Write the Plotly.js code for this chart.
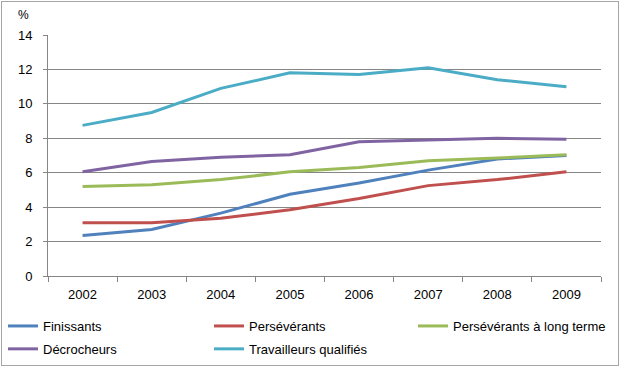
<!DOCTYPE html>
<html><head><meta charset="utf-8">
<script src="https://cdn.plot.ly/plotly-3.0.1.min.js"></script>
<style>
html,body{margin:0;padding:0;background:#fff;}
#wrap{position:absolute;left:1px;top:1px;width:616px;height:363px;border:1px solid #a6a6a6;}
#chart{position:absolute;left:-2px;top:-2px;width:621px;height:368px;}
</style></head>
<body><div id="wrap"><div id="chart"></div></div>
<script>
const years = ['2002','2003','2004','2005','2006','2007','2008','2009'];
const finissants = [2.35, 2.7, 3.65, 4.75, 5.4, 6.15, 6.8, 7.0];
const perseverants = [3.1, 3.1, 3.35, 3.85, 4.5, 5.25, 5.6, 6.05];
const perseverantsLT = [5.2, 5.3, 5.6, 6.05, 6.3, 6.7, 6.85, 7.05];
const decrocheurs = [6.05, 6.65, 6.9, 7.05, 7.8, 7.9, 8.0, 7.95];
const travailleurs = [8.75, 9.5, 10.9, 11.8, 11.7, 12.1, 11.4, 11.0];
const names = ['Finissants','Persévérants','Persévérants à long terme','Décrocheurs','Travailleurs qualifiés'];
const colors = ['#4F81BD','#C0504D','#9BBB59','#8064A2','#4BACC6'];
const legendIds = ['legend','legend2','legend3','legend','legend2'];
const series = [finissants, perseverants, perseverantsLT, decrocheurs, travailleurs];
const data = series.map((s,i)=>({x:years,y:s,name:names[i],type:'scatter',mode:'lines',
  legend:legendIds[i], legendgroup:'g'+i, line:{color:colors[i],width:3}}));
const ff = 'Liberation Sans, Arial, sans-serif';
const font = {family:ff, size:13, color:'#000'};
function leg(xpx){
  return {orientation:'v', xref:'container', yref:'container', x:xpx/621, y:(368-311)/368,
    xanchor:'left', yanchor:'top', tracegroupgap:3, bgcolor:'rgba(0,0,0,0)',
    font:{family:ff, size:13, color:'#000'}, itemwidth:30};
}
const layout = {
  width:621, height:368,
  margin:{l:48,r:20,t:35,b:92,autoexpand:false},
  paper_bgcolor:'rgba(0,0,0,0)', plot_bgcolor:'#fff',
  font:font, showlegend:true,
  xaxis:{type:'category', range:[-0.5,7.5], tickson:'boundaries', ticks:'outside', ticklen:5, tickcolor:'#868686',
    ticklabelstandoff:6, showline:true, linecolor:'#868686', linewidth:1, showgrid:false, tickfont:font, fixedrange:true, automargin:false},
  yaxis:{range:[0,14], dtick:2, ticks:'outside', ticklen:4, tickcolor:'#868686', ticklabelstandoff:8,
    showline:true, linecolor:'#868686', gridcolor:'#868686', gridwidth:1, zeroline:false,
    tickfont:font, fixedrange:true, automargin:false},
  legend:leg(3), legend2:leg(209), legend3:leg(413),
  annotations:[{text:'%', xref:'paper', yref:'paper', x:(23-48)/553, y:1+(35-15)/241,
    xanchor:'center', yanchor:'middle', showarrow:false, font:{family:ff, size:12}}]
};
Plotly.newPlot('chart', data, layout, {displayModeBar:false, staticPlot:true});
</script></body></html>
